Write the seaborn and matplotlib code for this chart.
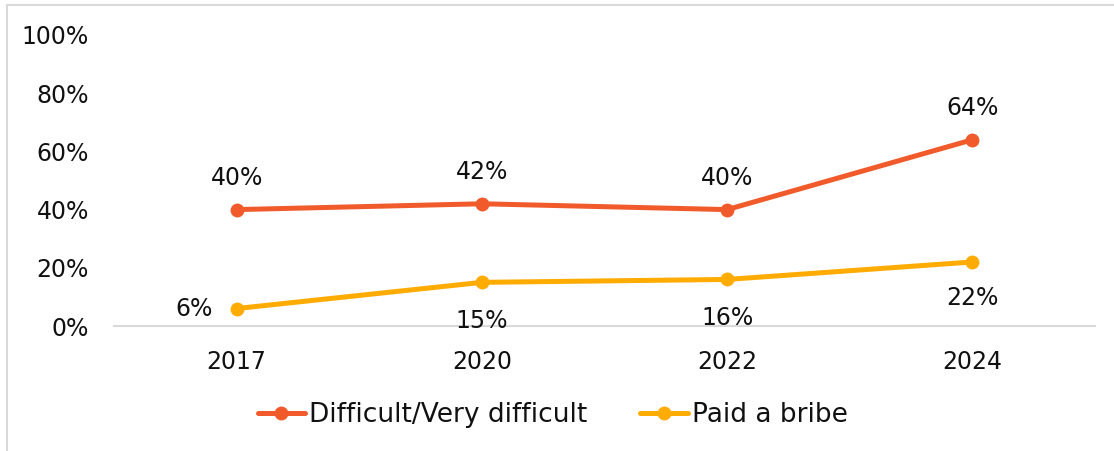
import matplotlib
matplotlib.use("Agg")
import matplotlib.pyplot as plt
import pandas as pd
import seaborn as sns
from matplotlib.lines import Line2D

years = ["2017", "2020", "2022", "2024"]
difficult = [40, 42, 40, 64]
bribe = [6, 15, 16, 22]
series_names = ["Difficult/Very difficult", "Paid a bribe"]
colors = {"Difficult/Very difficult": "#F15A2B", "Paid a bribe": "#FFAB00"}

df = pd.DataFrame({
    "year": years * 2,
    "value": difficult + bribe,
    "series": [series_names[0]] * 4 + [series_names[1]] * 4,
})

sns.set_theme(style="white")
plt.rcParams["font.family"] = ["DejaVu Sans"]

fig = plt.figure(figsize=(11.14, 4.51), dpi=100)
ax = fig.add_axes([114 / 1114, 125 / 451, (1095 - 114) / 1114, (326 - 35) / 451])

sns.lineplot(
    data=df, x="year", y="value", hue="series", palette=colors,
    marker="o", markersize=10, markeredgewidth=0, linewidth=3.6,
    ax=ax, legend=False,
)

ax.set_xlim(-0.5, 3.5)
ax.set_ylim(0, 100)
ax.set_yticks(range(0, 101, 20))
ax.set_yticklabels([f"{v}%" for v in range(0, 101, 20)])
ax.set_xlabel("")
ax.set_ylabel("")
ax.tick_params(axis="both", length=0, labelsize=17, colors="#111111")
ax.tick_params(axis="y", pad=18)
ax.tick_params(axis="x", pad=17)
for side in ["top", "right", "left"]:
    ax.spines[side].set_visible(False)
ax.spines["bottom"].set_color("#D9D9D9")
ax.spines["bottom"].set_linewidth(1.5)

# data labels
for i, v in enumerate(difficult):
    ax.annotate(f"{v}%", (i, v), xytext=(0, 23), textcoords="offset points",
                ha="center", va="center", fontsize=17, color="#111111")
bribe_offsets = [(-31, 0), (0, -28), (0, -28), (0, -26)]
for i, v in enumerate(bribe):
    ax.annotate(f"{v}%", (i, v), xytext=bribe_offsets[i], textcoords="offset points",
                ha="center", va="center", fontsize=17, color="#111111")

handles = [
    Line2D([], [], color=colors[n], marker="o", markersize=10, markeredgewidth=0, linewidth=3.6)
    for n in series_names
]
leg = fig.legend(handles, series_names, loc="center", bbox_to_anchor=(0.496, 1 - 415 / 451),
                 ncol=2, frameon=False, fontsize=19, handlelength=1.8, handletextpad=0.15,
                 columnspacing=2.0)
for t in leg.get_texts():
    t.set_color("#111111")

# light frame around the chart (top and left edges visible)
fig.add_artist(Line2D([7 / 1114, 7 / 1114], [0, 1 - 5 / 451], color="#D9D9D9", linewidth=1.5,
                      transform=fig.transFigure))
fig.add_artist(Line2D([7 / 1114, 1], [1 - 5 / 451, 1 - 5 / 451], color="#D9D9D9", linewidth=1.5,
                      transform=fig.transFigure))

fig.savefig("out.png", dpi=100)
